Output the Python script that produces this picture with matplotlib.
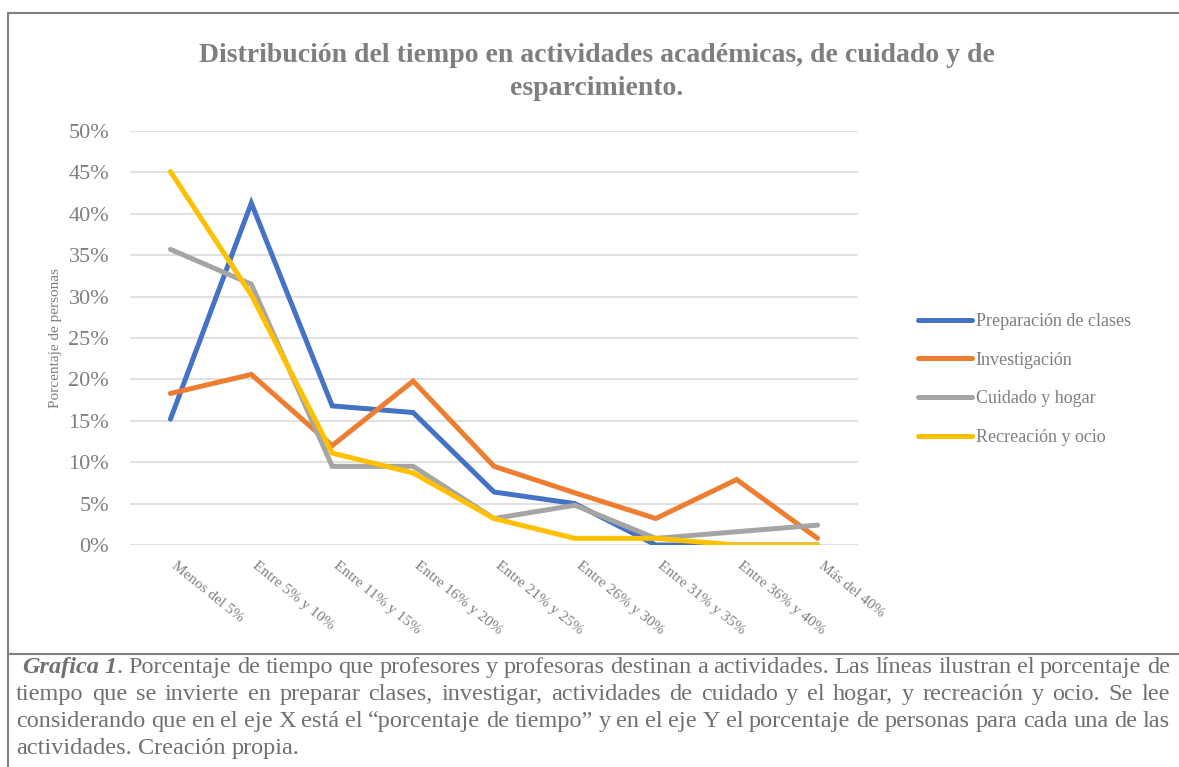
import matplotlib
matplotlib.use('Agg')
import matplotlib.pyplot as plt
from matplotlib.lines import Line2D
from matplotlib.ticker import PercentFormatter
from matplotlib.transforms import ScaledTranslation

plt.rcParams['font.family'] = ['Liberation Serif', 'DejaVu Serif']

# data
categories = ['Menos del 5%', 'Entre 5% y 10%', 'Entre 11% y 15%', 'Entre 16% y 20%',
              'Entre 21% y 25%', 'Entre 26% y 30%', 'Entre 31% y 35%', 'Entre 36% y 40%',
              'Más del 40%']
preparacion = [15.2, 41.3, 16.8, 16.0, 6.4, 5.0, 0.0, 0.0, 0.0]
investigacion = [18.3, 20.6, 12.0, 19.8, 9.5, 6.3, 3.2, 7.9, 0.8]
cuidado = [35.7, 31.5, 9.5, 9.5, 3.2, 4.8, 0.8, 1.6, 2.4]
recreacion = [45.1, 30.2, 11.1, 8.7, 3.2, 0.8, 0.8, 0.0, 0.0]
series_names = ['Preparación de clases', 'Investigación', 'Cuidado y hogar', 'Recreación y ocio']
series_colors = ['#4472C4', '#ED7D31', '#A5A5A5', '#FFC000']

title = 'Distribución del tiempo en actividades académicas, de cuidado y de\nesparcimiento.'
ylabel = 'Porcentaje de personas'
caption_lead = 'Grafica 1'
caption_lines = [
    '. Porcentaje de tiempo que profesores y profesoras destinan a actividades. Las líneas ilustran el porcentaje de',
    'tiempo que se invierte en preparar clases, investigar, actividades de cuidado y el hogar, y recreación y ocio. Se lee',
    'considerando que en el eje X está el “porcentaje de tiempo” y en el eje Y el porcentaje de personas para cada una de las',
    'actividades. Creación propia.',
]

W, H = 1179, 767
TXT = '#7f7f7f'
fig = plt.figure(figsize=(W / 100, H / 100), dpi=100)

# frame lines around chart and caption
frame = dict(color='#808080', lw=1.5, transform=fig.transFigure)
fig.add_artist(Line2D([8 / W, 1], [1 - 13 / H, 1 - 13 / H], **frame))
fig.add_artist(Line2D([8 / W, 8 / W], [0, 1 - 13 / H], **frame))
fig.add_artist(Line2D([8 / W, 1], [1 - 654 / H, 1 - 654 / H], **frame))

ax = fig.add_axes([130 / W, 1 - 545 / H, (858 - 130) / W, (545 - 131) / H])
x = list(range(len(categories)))
for vals, name, col in zip([preparacion, investigacion, cuidado, recreacion], series_names, series_colors):
    ax.plot(x, vals, color=col, lw=3.6, label=name, solid_capstyle='round', solid_joinstyle='miter')

ax.set_xlim(-0.5, len(categories) - 0.5)
ax.set_ylim(0, 50)
ax.set_yticks(range(0, 51, 5))
ax.yaxis.set_major_formatter(PercentFormatter(decimals=0))
ax.grid(axis='y', color='#d9d9d9', lw=1.1)
ax.set_axisbelow(True)
for s in ax.spines.values():
    s.set_visible(False)
ax.tick_params(axis='both', length=0, colors=TXT)
ax.tick_params(axis='y', labelsize=16, pad=15)
ax.set_xticks(x)
ax.set_xticklabels(categories, rotation=-39, ha='left', va='top', rotation_mode='anchor',
                   fontsize=11, color=TXT)
ax.tick_params(axis='x', pad=10)
shift = ScaledTranslation(7 / 100, 0, fig.dpi_scale_trans)
for lab in ax.get_xticklabels():
    lab.set_transform(lab.get_transform() + shift)
ax.set_ylabel(ylabel, fontsize=11, color=TXT, labelpad=0)
ax.yaxis.set_label_coords(62 / W, 1 - 338 / H, transform=fig.transFigure)

fig.text(597 / W, 1 - 72 / H, title, ha='center', va='center', fontsize=20,
         fontweight='bold', color=TXT, linespacing=1.45)

leg = ax.legend(loc='center left', bbox_to_anchor=(918 / W, 1 - 379.5 / H),
                bbox_transform=fig.transFigure, frameon=False, fontsize=13,
                handlelength=3.0, handletextpad=0.2, labelspacing=1.2,
                borderpad=0, borderaxespad=0)
for t in leg.get_texts():
    t.set_color(TXT)

# justified caption, word by word
renderer = fig.canvas.get_renderer()
cap_size = 17.5
CAP = '#707070'
styles = {'bi': dict(fontweight='bold', fontstyle='italic'), 'r': {}}

def make(s, st):
    return fig.text(0, 0, s, fontsize=cap_size, color=CAP, va='baseline', ha='left', **styles[st])

def wd(t):
    return t.get_window_extent(renderer).width

a = make('x x', 'r')
b = make('xx', 'r')
sp = wd(a) - wd(b)
a.remove()
b.remove()

x0, x1 = 16, 1170
for i, line in enumerate(caption_lines):
    words = []
    if i == 0:
        words.append([(caption_lead.split(' ')[0], 'bi')])
        first, rest = line.split(' ', 1)
        words.append([(caption_lead.split(' ')[1], 'bi'), (first, 'r')])
        words += [[(w, 'r')] for w in rest.split(' ')]
    else:
        words = [[(w, 'r')] for w in line.split(' ')]
    made = []
    for wp in words:
        made.append([make(s, st) for s, st in wp])
    widths = [sum(wd(t) for t in grp) for grp in made]
    start = x0 + (6 if i == 0 else 0)
    if i < len(caption_lines) - 1:
        gap = (x1 - start - sum(widths)) / (len(words) - 1)
    else:
        gap = sp
    y = 1 - (673 + 27 * i) / H
    cx = start
    for grp, w in zip(made, widths):
        px = cx
        for t in grp:
            t.set_position((px / W, y))
            px += wd(t)
        cx += w + gap

fig.savefig('out.png', dpi=100)
